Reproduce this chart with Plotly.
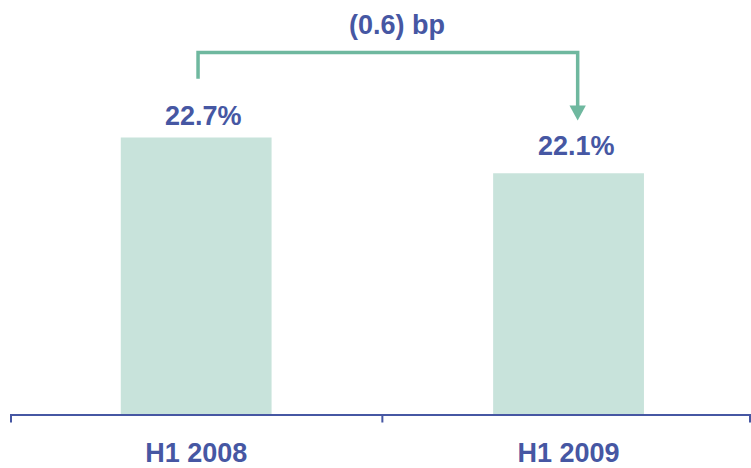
import plotly.graph_objects as go

# Half-year ratio comparison
periods = ["H1 2008", "H1 2009"]
ratios = [22.7, 22.1]
value_labels = ["22.7%", "22.1%"]
change_label = "(0.6) bp"

BAR = "#c8e3db"
GREEN = "#6fb89f"
NAVY = "#4657a3"
FONT = "Liberation Sans, Arial, sans-serif"
SIZE = 27

X_MIN, X_MAX = -0.5, 1.49

fig = go.Figure(
    go.Bar(
        x=[0, 1],
        y=ratios,
        width=0.405,
        marker=dict(color=BAR, line=dict(width=0)),
        hoverinfo="skip",
    )
)

# value labels above each bar
shifts = [4, 10]
for i, (v, lab) in enumerate(zip(ratios, value_labels)):
    fig.add_annotation(
        x=i, y=v, text=f"<b>{lab}</b>", showarrow=False,
        yanchor="bottom", yshift=shifts[i], xshift=7 + 1 * i,
        font=dict(family=FONT, size=SIZE, color=NAVY),
    )

# bracket with arrow showing the change between periods
y_top = 24.12
x_l, x_r = 0.005, 1.0245
fig.add_shape(
    type="path",
    path=f"M {x_l} 23.68 L {x_l} {y_top} L {x_r} {y_top} L {x_r} 23.22",
    line=dict(color=GREEN, width=3.5),
)
fig.add_shape(
    type="path",
    path=f"M {x_r - 0.022} 23.235 L {x_r + 0.022} 23.235 L {x_r} 22.985 Z",
    line=dict(color=GREEN, width=0),
    fillcolor=GREEN,
)
fig.add_annotation(
    x=0.54, y=24.58, text=f"<b>{change_label}</b>", showarrow=False,
    font=dict(family=FONT, size=SIZE, color=NAVY),
)

fig.update_layout(
    width=751, height=468,
    margin=dict(l=10, r=0, t=0, b=52),
    paper_bgcolor="white", plot_bgcolor="white",
    showlegend=False,
    xaxis=dict(
        range=[X_MIN, X_MAX],
        tickmode="array", tickvals=[0, 1], ticktext=[f"<b>{p}</b>" for p in periods],
        tickfont=dict(family=FONT, size=SIZE, color=NAVY),
        ticks="", showline=True, linecolor=NAVY, linewidth=2,
        showgrid=False, zeroline=False, ticklabelstandoff=14,
    ),
    yaxis=dict(range=[18.07, 25], visible=False, showgrid=False, zeroline=False),
)

# boundary tick marks under the axis line
for xb, dx in [(X_MIN, 1), (0.5, 0), (X_MAX, -1)]:
    fig.add_annotation(
        x=xb, y=0, yref="paper", xref="x", text="", showarrow=True,
        ax=0, ay=10, arrowhead=0, arrowwidth=2, arrowcolor=NAVY,
        standoff=0, startstandoff=0, xshift=dx,
    )

fig.write_html("out.html")
